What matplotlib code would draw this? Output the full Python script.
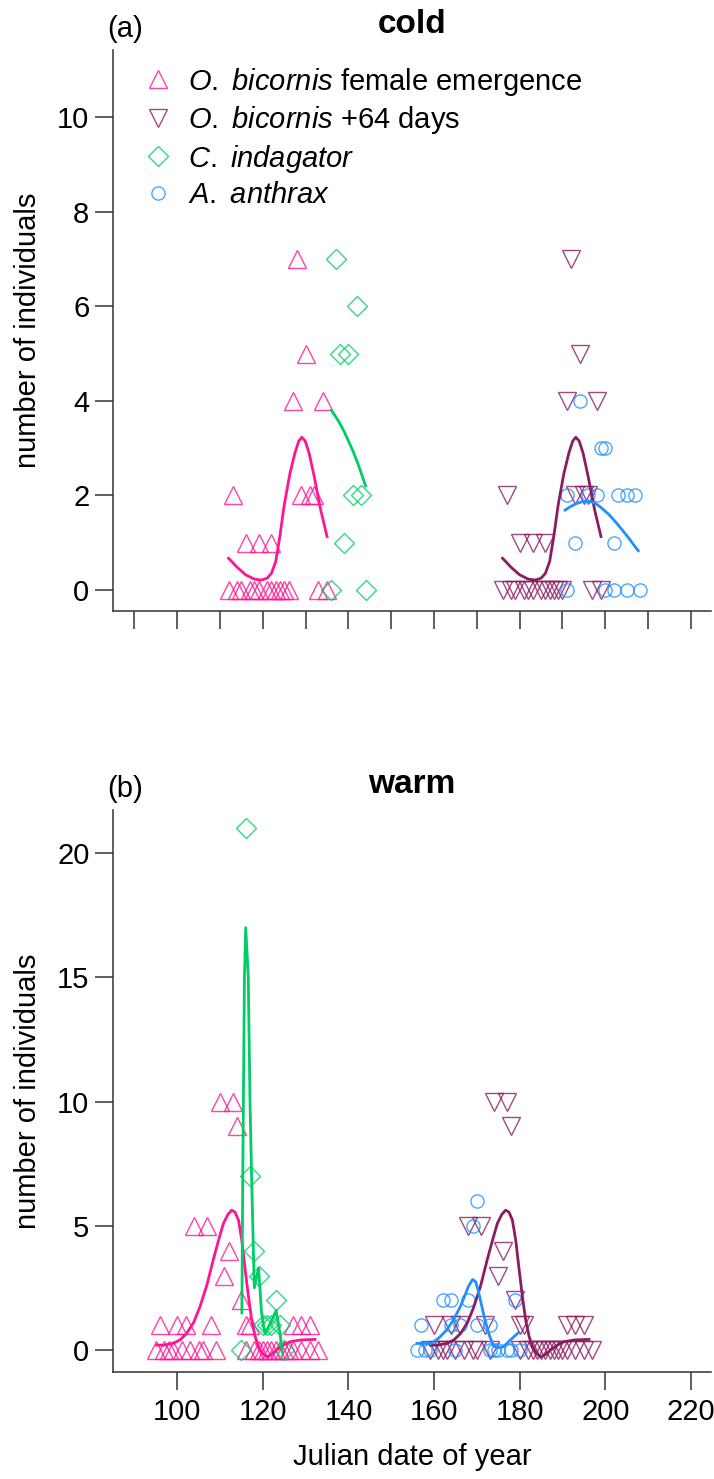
'''
Emergence of O. bicornis and its parasitoids in cold and warm treatments.
'''

import matplotlib
matplotlib.use('Agg')
import matplotlib.pyplot as plt

plt.rcParams['font.family'] = ['Liberation Sans', 'DejaVu Sans']
plt.rcParams['mathtext.fontset'] = 'custom'
plt.rcParams['mathtext.it'] = 'Liberation Sans:italic'
plt.rcParams['mathtext.rm'] = 'Liberation Sans'

# ---- cold treatment -------------------------------------------------------
cold_obic_day = [128, 130, 127, 134, 113, 129, 131, 132, 116, 119, 122,
                 112, 114, 115, 117, 118, 119, 121, 122, 123, 124, 125, 126,
                 133, 135]
cold_obic_n = [7, 5, 4, 4, 2, 2, 2, 2, 1, 1, 1,
               0, 0, 0, 0, 0, 0, 0, 0, 0, 0, 0, 0, 0, 0]
cold_shift_day = [192, 194, 191, 198, 177, 193, 195, 196, 180, 183, 186,
                  176, 178, 179, 181, 182, 183, 185, 186, 187, 188, 189, 190,
                  197, 199]
cold_shift_n = [7, 5, 4, 4, 2, 2, 2, 2, 1, 1, 1,
                0, 0, 0, 0, 0, 0, 0, 0, 0, 0, 0, 0, 0, 0]
cold_cind_day = [137, 142, 138, 140, 141, 143, 139, 136, 144]
cold_cind_n = [7, 6, 5, 5, 2, 2, 1, 0, 0]
cold_aant_day = [194, 199, 200, 191, 196, 198, 203, 205, 207, 193, 202,
                 191, 200, 202, 205, 208]
cold_aant_n = [4, 3, 3, 2, 2, 2, 2, 2, 2, 1, 1, 0, 0, 0, 0, 0]

cold_obic_fit_day = [112, 114, 116, 118, 119.7, 121, 122, 123, 124, 125,
                     126.3, 127.5, 128.4, 129.1, 129.9, 130.8, 132, 133.5,
                     135]
cold_obic_fit_n = [0.67, 0.48, 0.32, 0.23, 0.21, 0.25, 0.35, 0.6, 1.15, 1.8,
                   2.45, 2.9, 3.15, 3.23, 3.15, 2.9, 2.4, 1.7, 1.13]
cold_shift_fit_day = [176, 178, 180, 182, 183.7, 185, 186, 187, 188, 189,
                      190.3, 191.5, 192.4, 193.1, 193.9, 194.8, 196, 197.5,
                      199]
cold_shift_fit_n = [0.67, 0.48, 0.32, 0.23, 0.21, 0.25, 0.35, 0.6, 1.15, 1.8,
                    2.45, 2.9, 3.15, 3.23, 3.15, 2.9, 2.4, 1.7, 1.13]
cold_cind_fit_day = [136, 137, 138, 139, 140, 141, 142, 143, 144]
cold_cind_fit_n = [3.8, 3.67, 3.52, 3.35, 3.15, 2.95, 2.72, 2.47, 2.2]
cold_aant_fit_day = [190.6, 192, 193.3, 194.7, 196.1, 197.5, 198.8, 200.8,
                     202.7, 205.2, 207.7]
cold_aant_fit_n = [1.69, 1.77, 1.83, 1.87, 1.88, 1.84, 1.76, 1.6, 1.41,
                   1.13, 0.83]

# ---- warm treatment -------------------------------------------------------
warm_obic_day = [110, 113, 114, 104, 107, 112, 111, 115,
                 96, 100, 102, 108, 116, 117, 127, 129, 131,
                 95, 97, 98, 99, 101, 103, 105, 106, 109, 116, 118, 119, 120,
                 121, 122, 123, 124, 125, 126, 127, 129, 131, 133]
warm_obic_n = [10, 10, 9, 5, 5, 4, 3, 2,
               1, 1, 1, 1, 1, 1, 1, 1, 1,
               0, 0, 0, 0, 0, 0, 0, 0, 0, 0, 0, 0, 0,
               0, 0, 0, 0, 0, 0, 0, 0, 0, 0]
warm_shift_day = [174, 177, 178, 168, 171, 176, 175, 179,
                  160, 164, 166, 172, 180, 181, 191, 193, 195,
                  159, 161, 162, 163, 165, 167, 169, 170, 173, 180, 182, 183,
                  184, 185, 186, 187, 188, 189, 190, 191, 193, 195, 197]
warm_shift_n = [10, 10, 9, 5, 5, 4, 3, 2,
                1, 1, 1, 1, 1, 1, 1, 1, 1,
                0, 0, 0, 0, 0, 0, 0, 0, 0, 0, 0, 0,
                0, 0, 0, 0, 0, 0, 0, 0, 0, 0, 0]
warm_cind_day = [116, 117, 118, 119, 123, 120, 121, 122, 124, 115, 125]
warm_cind_n = [21, 7, 4, 3, 2, 1, 1, 1, 1, 0, 0]
warm_aant_day = [170, 169, 162, 164, 168, 179, 157, 164, 166, 170, 173,
                 156, 158, 159, 165, 173, 174, 175, 177, 178, 180]
warm_aant_n = [6, 5, 2, 2, 2, 2, 1, 1, 1, 1, 1,
               0, 0, 0, 0, 0, 0, 0, 0, 0, 0]

warm_obic_fit_day = [95.2, 97, 99.1, 100.7, 102.2, 103.8, 105.3, 106.9,
                     108.4, 109.7, 110.8, 111.8, 112.7, 113.5, 114.3, 115.1,
                     115.8, 116.6, 117.4, 118.2, 119, 120, 120.9, 122,
                     123.2, 124.8, 126.4, 129, 132.2]
warm_obic_fit_n = [0.2, 0.2, 0.27, 0.42, 0.67, 1.1, 1.74, 2.6,
                   3.62, 4.45, 5.1, 5.45, 5.63, 5.55, 5.23, 4.4,
                   3.35, 2.2, 1.21, 0.55, 0.13, -0.15, -0.27, -0.18,
                   0, 0.2, 0.34, 0.41, 0.43]
warm_shift_fit_day = [159.2, 161, 163.1, 164.7, 166.2, 167.8, 169.3, 170.9,
                      172.4, 173.7, 174.8, 175.8, 176.7, 177.5, 178.3, 179.1,
                      179.8, 180.6, 181.4, 182.2, 183, 184, 184.9, 186,
                      187.2, 188.8, 190.4, 193, 196.2]
warm_shift_fit_n = [0.2, 0.2, 0.27, 0.42, 0.67, 1.1, 1.74, 2.6,
                    3.62, 4.45, 5.1, 5.45, 5.63, 5.55, 5.23, 4.4,
                    3.35, 2.2, 1.21, 0.55, 0.13, -0.15, -0.27, -0.18,
                    0, 0.2, 0.34, 0.41, 0.43]
warm_cind_fit_day = [115.1, 115.3, 115.7, 116.0, 116.6, 117.0, 117.4, 118.0,
                     119.0, 119.7, 120.5, 122.1, 123.1, 124.0, 124.6]
warm_cind_fit_n = [1.5, 6.8, 15.0, 17.0, 15.0, 10.0, 6.8, 2.5,
                   3.3, 1.5, 0.67, 1.2, 1.6, 0.67, -0.13]
warm_aant_fit_day = [156, 159.4, 161.2, 162.9, 164.5, 166.1, 167.1, 168,
                     169, 169.7, 170.3, 171.1, 171.9, 172.9, 173.9, 175,
                     176.2, 177.8, 179.7]
warm_aant_fit_n = [0.27, 0.27, 0.5, 0.8, 1.2, 1.74, 2.15, 2.55,
                   2.84, 2.75, 2.41, 1.8, 1.21, 0.6, 0.16, 0.1,
                   0.13, 0.4, 0.7]

labels = [r'$\mathit{O.\ bicornis}$ female emergence',
          r'$\mathit{O.\ bicornis}$ +64 days',
          r'$\mathit{C.\ indagator}$',
          r'$\mathit{A.\ anthrax}$']

c_obic = '#FF1493'
c_shift = '#8B1C62'
c_cind = '#00CD66'
c_aant = '#1E90FF'
axcol = '#333333'
fs = 21


def panel(ax, obic, shift, cind, aant, fits):
    '''
    Draws the four species as open markers with their fitted curves on top.
    '''
    handles = []
    for (d, n), mk, col, ms in zip([obic, shift, cind, aant],
                                    ['^', 'v', 'D', 'o'],
                                    [c_obic, c_shift, c_cind, c_aant],
                                    [13, 13, 10, 9.5]):
        h, = ax.plot(d, n, ls='none', marker=mk, ms=ms, mfc='none', mec=col,
                     mew=1.0, alpha=0.8)
        handles.append(h)
    for (d, n), col in zip(fits, [c_obic, c_shift, c_cind, c_aant]):
        ax.plot(d, n, c=col, lw=2.0, solid_joinstyle='round')
    ax.set_xlim(85, 224.7)
    for s in ['top', 'right']:
        ax.spines[s].set_visible(False)
    for s in ['left', 'bottom']:
        ax.spines[s].set_color(axcol)
        ax.spines[s].set_linewidth(1.1)
    ax.tick_params(length=13, width=1.1, color=axcol, labelsize=fs, pad=4)
    ax.tick_params(axis='x', pad=6)
    ax.set_ylabel('number of individuals', fontsize=fs)
    ax.yaxis.set_label_coords(-0.118, 0.5)
    return handles


fig = plt.figure(figsize=(7.14, 14.79), dpi=100)
ax1 = fig.add_axes([0.1583, 0.5869, 0.8375, 0.3793])
ax2 = fig.add_axes([0.1583, 0.0723, 0.8375, 0.3800])

hs = panel(ax1, (cold_obic_day, cold_obic_n), (cold_shift_day, cold_shift_n),
           (cold_cind_day, cold_cind_n), (cold_aant_day, cold_aant_n),
           [(cold_obic_fit_day, cold_obic_fit_n),
            (cold_shift_fit_day, cold_shift_fit_n),
            (cold_cind_fit_day, cold_cind_fit_n),
            (cold_aant_fit_day, cold_aant_fit_n)])
ax1.set_ylim(-0.444, 11.42)
ax1.set_yticks([0, 2, 4, 6, 8, 10])
ax1.set_xticks(range(90, 221, 10))
ax1.set_xticklabels([])
ax1.set_title('cold', fontsize=24, fontweight='bold', pad=12)
ax1.text(0.02, 1.012, '(a)', transform=ax1.transAxes, fontsize=fs,
         ha='center', va='bottom')
ax1.legend(hs, labels, loc='upper left', bbox_to_anchor=(0.051, 0.972),
           frameon=False, fontsize=fs, handlelength=1.0, handletextpad=0.53,
           labelspacing=0.22, borderpad=0, borderaxespad=0)

panel(ax2, (warm_obic_day, warm_obic_n), (warm_shift_day, warm_shift_n),
      (warm_cind_day, warm_cind_n), (warm_aant_day, warm_aant_n),
      [(warm_obic_fit_day, warm_obic_fit_n),
       (warm_shift_fit_day, warm_shift_fit_n),
       (warm_cind_fit_day, warm_cind_fit_n),
       (warm_aant_fit_day, warm_aant_fit_n)])
ax2.set_ylim(-0.885, 21.73)
ax2.set_yticks([0, 5, 10, 15, 20])
ax2.set_xticks(range(100, 221, 20))
ax2.set_xlabel('Julian date of year', fontsize=fs, labelpad=12)
ax2.set_title('warm', fontsize=24, fontweight='bold', pad=12)
ax2.text(0.02, 1.012, '(b)', transform=ax2.transAxes, fontsize=fs,
         ha='center', va='bottom')

fig.savefig('out.png', dpi=100)
